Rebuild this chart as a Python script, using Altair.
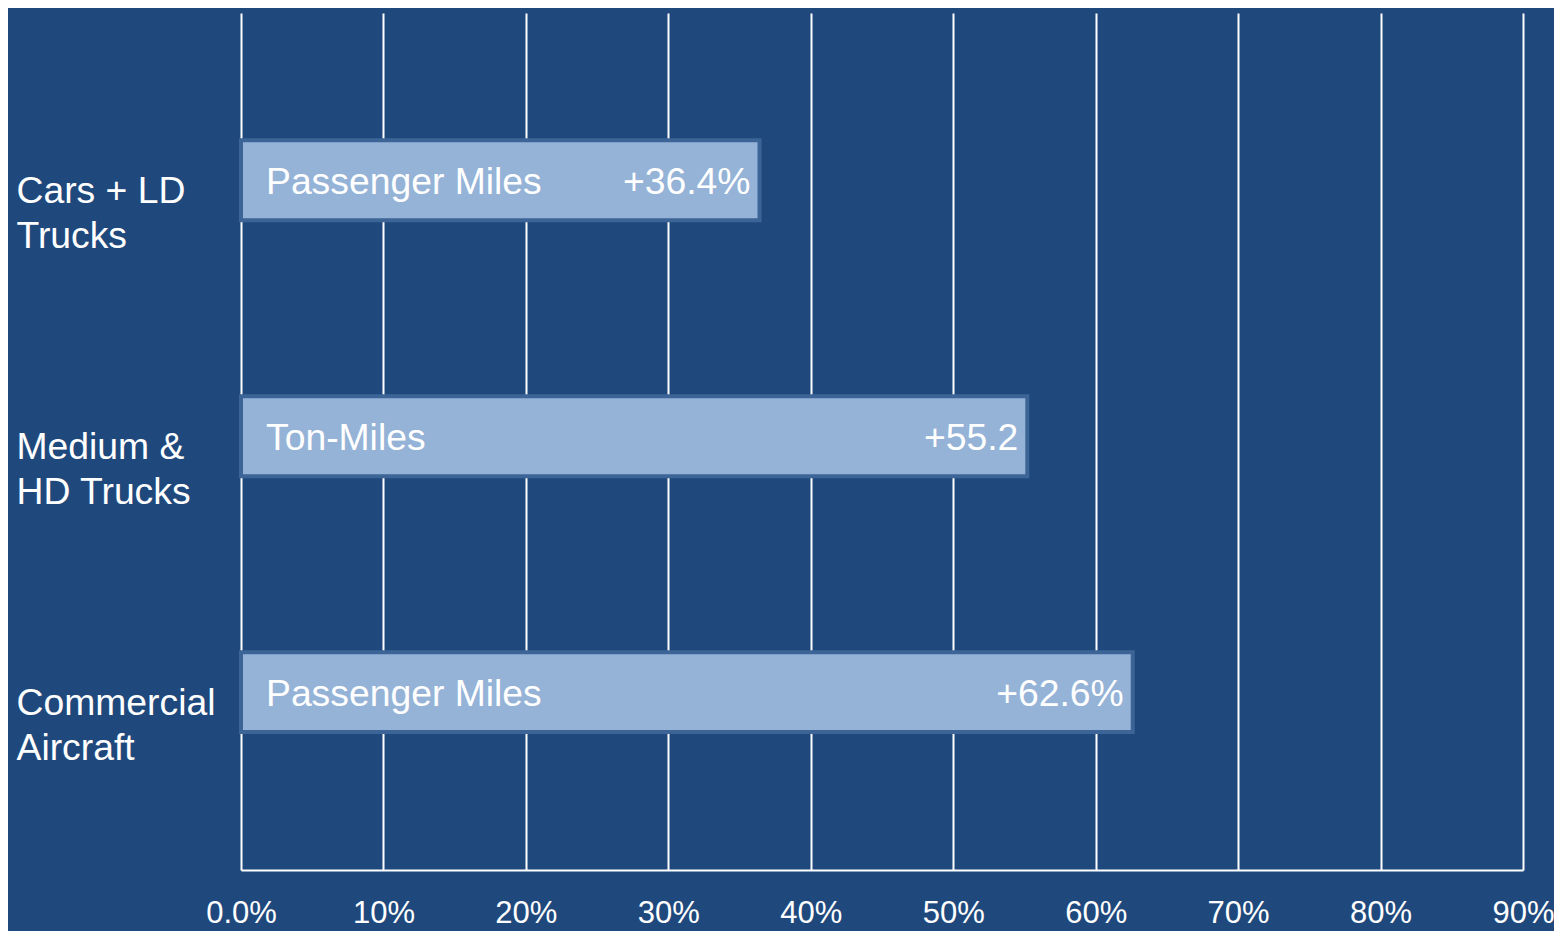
import altair as alt
import pandas as pd

categories = ["Cars + LD\nTrucks", "Medium &\nHD Trucks", "Commercial\nAircraft"]
growth = [0.364, 0.552, 0.626]
metric_labels = ["Passenger Miles", "Ton-Miles", "Passenger Miles"]
value_labels = ["+36.4%", "+55.2", "+62.6%"]
tick_values = [0.0, 0.1, 0.2, 0.3, 0.4, 0.5, 0.6, 0.7, 0.8, 0.9]

df = pd.DataFrame({
    "category": categories,
    "growth": growth,
    "metric": metric_labels,
    "value_label": value_labels,
})

FONT = "Liberation Sans"
BG = "#1F497D"
FS = 37.3

y_enc = alt.Y(
    "category:N",
    sort=categories,
    title=None,
    scale=alt.Scale(paddingInner=0.6875, paddingOuter=0.518, align=0.48),
    axis=alt.Axis(
        labelExpr="split(datum.label, '\\n')",
        labelAlign="left",
        labelBaseline="middle",
        labelPadding=225,
        labelOffset=12,
        labelFontSize=FS,
        labelLineHeight=45,
        labelColor="white",
        labelFont=FONT,
        labelLimit=0,
        ticks=False,
        tickSize=0,
        domain=False,
        grid=False,
    ),
)

x_enc = alt.X(
    "growth:Q",
    title=None,
    scale=alt.Scale(domain=[0, 0.9], nice=False, zero=True),
    axis=alt.Axis(
        values=tick_values,
        labelExpr="datum.value == 0 ? '0.0%' : format(datum.value, '.0%')",
        grid=True,
        gridColor="white",
        gridWidth=2,
        gridOpacity=1,
        domain=True,
        domainColor="white",
        domainWidth=2,
        ticks=False,
        tickSize=0,
        labelFontSize=31,
        labelColor="white",
        labelFont=FONT,
        labelPadding=28,
        labelFlush=False,
        labelOverlap=False,
    ),
)

bars = alt.Chart(df).mark_bar(
    color="#95B3D7", stroke="#3C6496", strokeWidth=4
).encode(x=x_enc, y=y_enc)

left_text = alt.Chart(df).mark_text(
    align="left", baseline="middle", dx=25, dy=3, fontSize=FS, color="white", font=FONT
).encode(x=alt.value(0), y=y_enc, text="metric:N")

right_text = alt.Chart(df).mark_text(
    align="right", baseline="middle", dx=-9, dy=3, fontSize=FS, color="white", font=FONT
).encode(x=x_enc, y=y_enc, text="value_label:N")

chart = alt.layer(bars, left_text, right_text).properties(
    width=1282,
    height=857,
    autosize=alt.AutoSizeParams(type="none"),
    padding={"left": 233, "top": 5, "right": 31, "bottom": 61},
    background=BG,
).configure_view(strokeWidth=0)

chart.save("out.html", embed_options={"renderer": "svg", "actions": False})
